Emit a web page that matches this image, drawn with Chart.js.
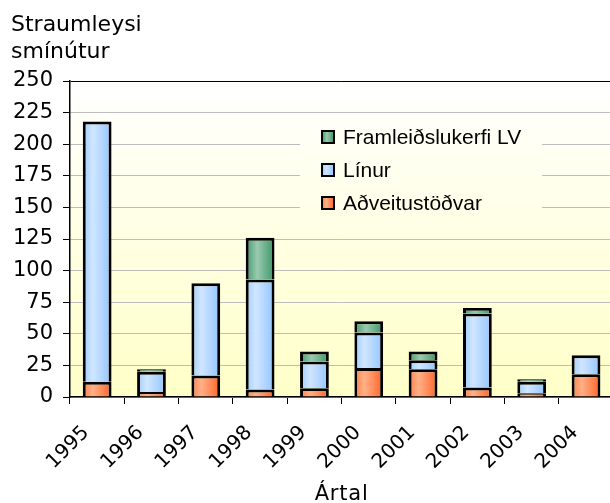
<!DOCTYPE html>
<html>
<head>
<meta charset="utf-8">
<script src="https://cdn.jsdelivr.net/npm/chart.js@4/dist/chart.umd.min.js"></script>
<style>
  html, body { margin: 0; padding: 0; overflow: hidden; background: #fff; }
  #wrap { width: 620px; height: 503px; position: relative; }
</style>
</head>
<body>
<div id="wrap"><canvas id="c"></canvas></div>
<script>
// data
const years = ['1995','1996','1997','1998','1999','2000','2001','2002','2003','2004'];
const adveitustodvar = [12, 4, 17, 6, 7, 23, 22, 7.5, 3, 18];
const linur = [206, 16, 73, 87, 21, 28, 7, 58.5, 9, 15];
const framleidslukerfi = [null, 2, null, 33, 8, 9, 7, 4.5, 2, null];
const yTicks = [0, 25, 50, 75, 100, 125, 150, 175, 200, 225, 250];

const BAR_PCT = 0.53;
const orangeStops = [[0, '#FF8048'], [0.35, '#FFB088'], [1, '#FF6428']];
const blueStops = [[0, '#A0CCFF'], [0.35, '#D0E6FF'], [1, '#92C4FF']];
const greenStops = [[0, '#3F9A6A'], [0.4, '#9ACAB0'], [1, '#3A9566']];

function barFill(stops){
    return ctx => {
        const chart = ctx.chart;
        const xs = chart.scales && chart.scales.x;
        if(!xs || ctx.type !== 'data') return stops[1][1];
        const cx = xs.getPixelForValue(ctx.dataIndex);
        const half = (xs.width / years.length) * BAR_PCT / 2;
        if(!isFinite(cx) || !isFinite(half) || half <= 0) return stops[1][1];
        const g = chart.ctx.createLinearGradient(cx - half, 0, cx + half, 0);
        stops.forEach(([o, c]) => g.addColorStop(o, c));
        return g;
    }
}

function dataset(label, data, stops){
    return {
        label,
        data,
        stops,
        backgroundColor: barFill(stops),
        borderColor: '#000',
        borderWidth: 3,
        borderSkipped: 'start',
        categoryPercentage: 1,
        barPercentage: BAR_PCT
    }
}

let plotGradient = '#FFFFE4';
function getPlotGradient(chart){
    const a = chart.chartArea;
    if(!a || !isFinite(a.top) || !isFinite(a.bottom)) return '#FFFFE4';
    const g = chart.ctx.createLinearGradient(0, a.top, 0, a.bottom);
    g.addColorStop(0, '#FFFFFF');
    g.addColorStop(1, '#FFFFC8');
    return g;
}

const LEGEND_BOX = {x: 300, y: 117, w: 242, h: 104};

const decor = {
    id: 'decor',
    beforeDraw(chart){
        const {ctx, chartArea: a} = chart;
        plotGradient = getPlotGradient(chart);
        ctx.save();
        ctx.fillStyle = plotGradient;
        ctx.fillRect(a.left, a.top, a.right - a.left, a.bottom - a.top);
        // title
        ctx.fillStyle = '#000';
        ctx.font = '22px "DejaVu Sans"';
        ctx.textAlign = 'left';
        ctx.textBaseline = 'alphabetic';
        ctx.fillText('Straumleysi', 11, 31);
        ctx.fillText('smínútur', 11, 58);
        // x axis title
        ctx.font = '21px "DejaVu Sans"';
        ctx.letterSpacing = '0.8px';
        ctx.textAlign = 'center';
        ctx.fillText('Ártal', (a.left + a.right) / 2, 500);
        ctx.restore();
    },
    beforeDatasetsDraw(chart){
        // legend area hides gridlines
        const {ctx} = chart;
        ctx.save();
        ctx.fillStyle = plotGradient;
        ctx.fillRect(LEGEND_BOX.x, LEGEND_BOX.y, LEGEND_BOX.w, LEGEND_BOX.h);
        ctx.restore();
    },
    afterDatasetsDraw(chart){
        const {ctx} = chart;
        const sets = chart.data.datasets.slice().reverse();
        ctx.save();
        ctx.font = '21px "Liberation Sans", Arial';
        ctx.textAlign = 'left';
        ctx.textBaseline = 'alphabetic';
        sets.forEach((ds, i) => {
            const cy = 137 + i * 33;
            const sx = 322, s = 12;
            const g = ctx.createLinearGradient(sx, 0, sx + s, 0);
            ds.stops.forEach(([o, c]) => g.addColorStop(o, c));
            ctx.fillStyle = g;
            ctx.fillRect(sx, cy - s / 2, s, s);
            ctx.strokeStyle = '#000';
            ctx.lineWidth = 2;
            ctx.strokeRect(sx, cy - s / 2, s, s);
            ctx.fillStyle = '#000';
            ctx.fillText(ds.label, 343, cy + 6.5);
        });
        ctx.restore();
    }
};

new Chart(document.getElementById('c'), {
    type: 'bar',
    data: {
        labels: years,
        datasets: [
            dataset('Aðveitustöðvar', adveitustodvar, orangeStops),
            dataset('Línur', linur, blueStops),
            dataset('Framleiðslukerfi LV', framleidslukerfi, greenStops)
        ]
    },
    options: {
        responsive: true,
        maintainAspectRatio: false,
        animation: false,
        layout: { padding: { top: 81, left: 0, right: 0, bottom: 0 } },
        plugins: {
            legend: { display: false },
            tooltip: { enabled: false }
        },
        scales: {
            x: {
                stacked: true,
                afterFit: s => { s.height = 106; },
                grid: {
                    drawOnChartArea: false,
                    tickColor: '#000',
                    tickLength: 7,
                    lineWidth: 1
                },
                border: { color: '#000', width: 1.5 },
                ticks: {
                    autoSkip: false,
                    minRotation: 45,
                    maxRotation: 45,
                    padding: 17,
                    labelOffset: -11,
                    color: '#000',
                    font: { family: '"DejaVu Sans"', size: 20 }
                }
            },
            y: {
                stacked: true,
                min: 0,
                max: 250,
                afterFit: s => { s.width = 70; },
                afterBuildTicks: s => { s.ticks = yTicks.map(v => ({value: v})); },
                grid: {
                    color: c => c.tick && c.tick.value === 250 ? '#000' : '#BDBDBD',
                    tickColor: '#000',
                    tickLength: 7,
                    lineWidth: 1
                },
                border: { color: '#000', width: 1.5 },
                ticks: {
                    padding: 10,
                    color: '#000',
                    font: { family: '"DejaVu Sans"', size: 21 }
                }
            }
        }
    },
    plugins: [decor]
});
</script>
</body>
</html>
